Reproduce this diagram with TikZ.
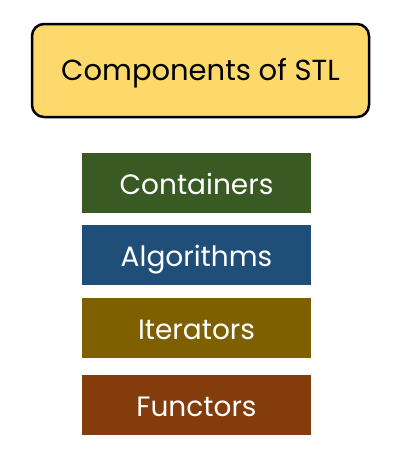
\documentclass[tikz,border=0pt]{standalone}
\usepackage{fontspec}
\setmainfont{Poppins}
\definecolor{titlefill}{HTML}{FDD96B}
\definecolor{contfill}{HTML}{3A5A23}
\definecolor{algofill}{HTML}{1F4E79}
\definecolor{iterfill}{HTML}{7F6000}
\definecolor{functfill}{HTML}{843C0C}
\tikzset{
  titlebox/.style={draw=black, line width=2.5pt, fill=titlefill, rounded corners=12pt,
    minimum width=337pt, minimum height=93pt, text height=20pt, text depth=0pt,
    font=\fontsize{29}{34}\selectfont},
  partbox/.style={fill=#1, text=white, minimum width=229pt, minimum height=60pt,
    text height=24pt, text depth=0pt, font=\fontsize{28}{33}\selectfont}
}
\begin{document}
\begin{tikzpicture}[x=1pt, y=-1pt]
\useasboundingbox (0,0) rectangle (403,455);
\node[titlebox] (stl) at (200.5,70.5) {Components of STL};
\node[partbox=contfill] (cont) at (196.5,182.5) {Containers};
\node[partbox=algofill] (algo) at (196.5,254.7) {Algorithms};
\node[partbox=iterfill] (iter) at (196.5,327.5) {Iterators};
\node[partbox=functfill] (funct) at (196.5,404.7) {Functors};
\end{tikzpicture}
\end{document}
